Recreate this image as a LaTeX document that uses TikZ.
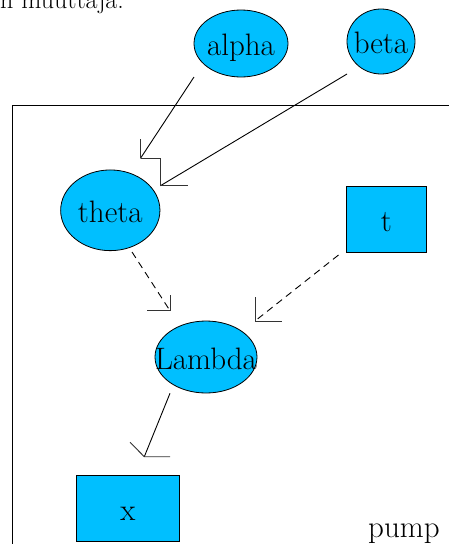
\documentclass[tikz,border=0pt]{standalone}
\usetikzlibrary{shapes.geometric}
\definecolor{nodefill}{HTML}{00BFFF}
\tikzset{
  lbl/.style={font=\fontsize{31}{36}\selectfont, text height=24pt, text depth=0pt, inner sep=0pt},
  varell/.style={lbl, ellipse, draw=black, line width=0.8pt, fill=nodefill},
  varbox/.style={lbl, rectangle, draw=black, line width=0.8pt, fill=nodefill},
  conn/.style={line width=0.9pt, black},
  dconn/.style={conn, dash pattern=on 7pt off 5pt},
  barb/.style={line width=0.9pt, black!80},
}
\begin{document}
\begin{tikzpicture}[x=1pt,y=-1pt]
\useasboundingbox (0,0) rectangle (449,544);
% cut-off caption text
\node[anchor=base west, inner sep=0pt, font=\fontsize{26}{30}\selectfont] (caption) at (0,8.5) {n muuttaja.};
% plate
\draw[line width=0.9pt, black] (460,105) -- (12,105) -- (12,560);
\node[anchor=base west, inner sep=0pt, font=\fontsize{31}{36}\selectfont] (pump) at (368,537) {pump};
% nodes
\node[varell, minimum width=94pt, minimum height=67pt] (alpha) at (241,43.5) {\makebox[0pt]{alpha}};
\node[varell, minimum width=68pt, minimum height=65pt] (beta) at (381,41.5) {\makebox[0pt]{beta}};
\node[varell, minimum width=99.3pt, minimum height=80.7pt] (theta) at (110.3,210.3) {\makebox[0pt]{theta}};
\node[varbox, minimum width=80.7pt, minimum height=66.7pt] (t) at (386.3,219.3) {\makebox[0pt]{t}};
\node[varell, minimum width=102pt, minimum height=72pt] (Lambda) at (206,357) {\makebox[0pt]{Lambda}};
\node[varbox, minimum width=102.3pt, minimum height=66.7pt] (x) at (127.8,508.3) {\makebox[0pt]{x}};
% connector end points
\coordinate (alphaOut) at (194,77);
\coordinate (betaOut) at (347,74);
\coordinate (thetaOut) at (132,252);
\coordinate (tOut) at (338.5,255);
\coordinate (LambdaOut) at (170,393.3);
\coordinate (thetaInA) at (140.5,158.3);
\coordinate (thetaInB) at (160.5,185.7);
\coordinate (LambdaInA) at (170,310.7);
\coordinate (LambdaInB) at (255,321);
\coordinate (xIn) at (144.3,456.7);
% connectors
\draw[conn] (alphaOut) -- (thetaInA);
\draw[barb] (thetaInA) -- ++(0,-19.3) (thetaInA) -- ++(19.5,0);
\draw[conn] (betaOut) -- (thetaInB);
\draw[barb] (thetaInB) -- ++(0,-27.4) (thetaInB) -- ++(27.5,0);
\draw[dconn] (thetaOut) -- (LambdaInA);
\draw[barb] (LambdaInA) -- ++(0,-15.7) (LambdaInA) -- ++(-23.3,0);
\draw[dconn] (tOut) -- (LambdaInB);
\draw[barb] (LambdaInB) -- ++(0,-23.7) (LambdaInB) -- ++(27.3,0);
\draw[conn] (LambdaOut) -- (xIn);
\draw[barb] (xIn) -- ++(-14.3,-14.4) (xIn) -- ++(25.7,0);
\end{tikzpicture}
\end{document}
